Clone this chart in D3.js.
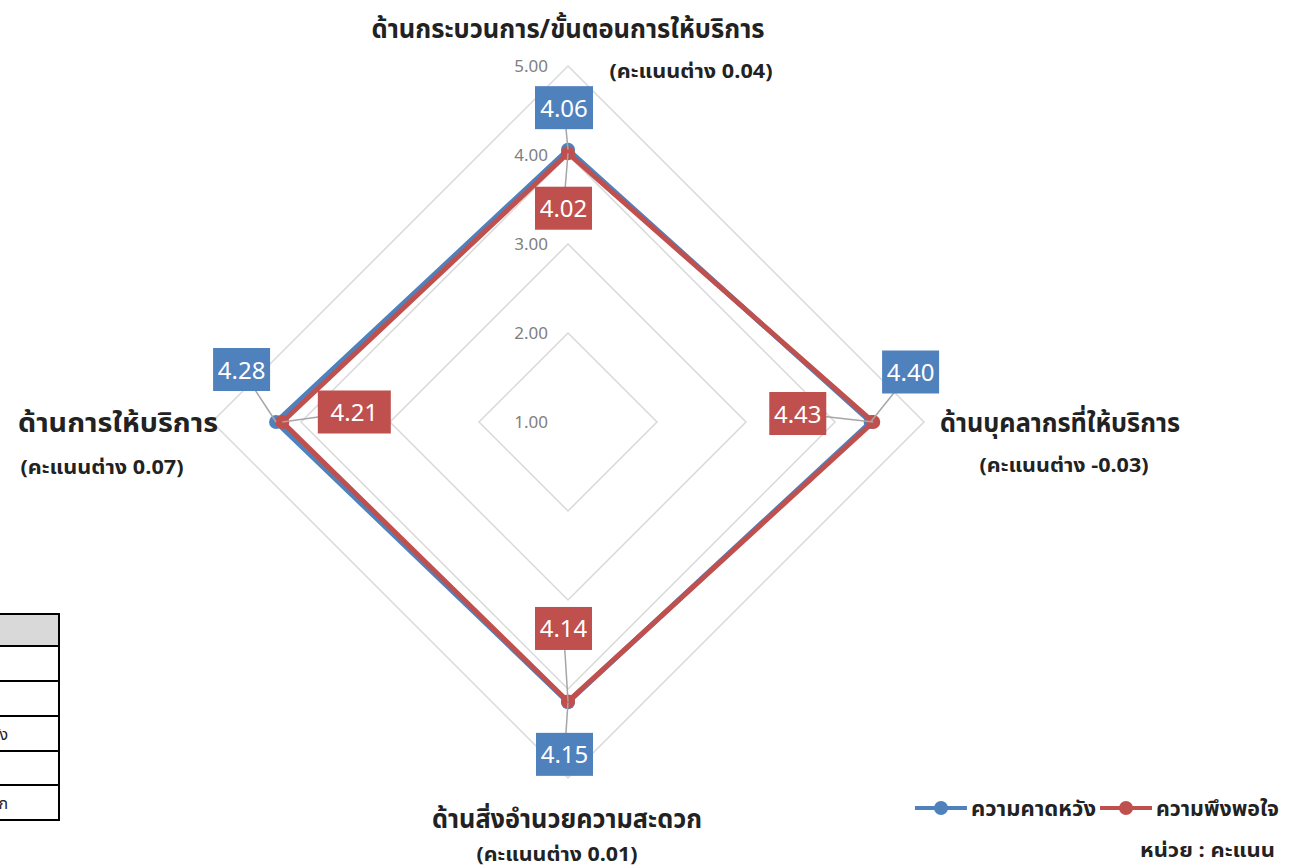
<!DOCTYPE html>
<html>
<head>
<meta charset="utf-8">
<script src="https://cdn.jsdelivr.net/npm/d3@7"></script>
<style>
  body { margin: 0; background: #fff; }
  svg { display: block; font-family: "Noto Sans Thai", Tahoma, "Noto Sans", sans-serif; }
</style>
</head>
<body>
<svg id="chart" width="1293" height="868"></svg>
<script>
// axes go clockwise from the top
const categories = ["ด้านกระบวนการ/ขั้นตอนการให้บริการ", "ด้านบุคลากรที่ให้บริการ", "ด้านสิ่งอำนวยความสะดวก", "ด้านการให้บริการ"];
const diffLabels = ["(คะแนนต่าง 0.04)", "(คะแนนต่าง -0.03)", "(คะแนนต่าง 0.01)", "(คะแนนต่าง 0.07)"];
const expectation = [4.06, 4.40, 4.15, 4.28];
const satisfaction = [4.02, 4.43, 4.14, 4.21];
const seriesNames = ["ความคาดหวัง", "ความพึงพอใจ"];
const ticks = [1, 2, 3, 4, 5];
const tableRows = ["", "", "", "ความคาดหวัง", "", "ด้านสิ่งอำนวยความสะดวก"];

const blue = "#4F81BD", red = "#C0504D";
const svg = d3.select("#chart");
const cx = 568, cy = 422;

const r = d3.scaleLinear().domain([1, 5]).range([0, 356]);
const angle = d3.scalePoint().domain(d3.range(categories.length)).range([0, 2 * Math.PI * 3 / 4]);
function pt(i, v) {
  const a = angle(i);
  return [cx + r(v) * Math.sin(a), cy - r(v) * Math.cos(a)];
}

// grid diamonds
const g = svg.append("g");
ticks.slice(1).forEach(t => {
  g.append("polygon")
    .attr("points", d3.range(4).map(i => pt(i, t).join(",")).join(" "))
    .attr("fill", "none").attr("stroke", "#D9D9D9").attr("stroke-width", 1.5);
});
g.selectAll(".tick").data(ticks).enter().append("text")
  .attr("x", cx - 20).attr("y", d => pt(0, d)[1] + 6)
  .attr("text-anchor", "end").attr("font-size", 17).attr("fill", "#808080")
  .text(d => d.toFixed(2));

// series
const line = d3.line().curve(d3.curveLinearClosed);
[[expectation, blue], [satisfaction, red]].forEach(([vals, col]) => {
  svg.append("path")
    .attr("d", line(vals.map((v, i) => pt(i, v))))
    .attr("fill", "none").attr("stroke", col).attr("stroke-width", 5)
    .attr("stroke-linejoin", "miter");
  svg.selectAll(null).data(vals).enter().append("circle")
    .attr("cx", (v, i) => pt(i, v)[0]).attr("cy", (v, i) => pt(i, v)[1])
    .attr("r", 7).attr("fill", col);
});

// data labels: box centre offset from its point, and box width
const expOff = [[-4, -42, 58], [40, -50, 57], [-3.5, 52, 57], [-34.5, -52.5, 57]];
const satOff = [[-4.5, 55, 57], [-75.5, -8.5, 57], [-4.5, -73, 57], [72, -10, 73]];
function labels(vals, offs, col) {
  vals.forEach((v, i) => {
    const [px, py] = pt(i, v);
    const bx = px + offs[i][0], by = py + offs[i][1], w = offs[i][2];
    svg.append("line").attr("x1", px).attr("y1", py).attr("x2", bx).attr("y2", by)
      .attr("stroke", "#A6A6A6").attr("stroke-width", 1.5);
    svg.append("rect").attr("x", bx - w / 2).attr("y", by - 21.5).attr("width", w).attr("height", 43).attr("fill", col);
    svg.append("text").attr("x", bx).attr("y", by + 9).attr("text-anchor", "middle")
      .attr("font-size", 24).attr("fill", "#fff").text(v.toFixed(2));
  });
}
labels(expectation, expOff, blue);
labels(satisfaction, satOff, red);

// category labels: [x, y, width] for name, then for difference
const catPos = [[568, 38, 393, 691, 78, 163], [1060, 432, 240, 1064, 472, 169], [567, 828, 270, 557, 861, 161], [118, 432, 200, 102, 474, 163]];
categories.forEach((c, i) => {
  const p = catPos[i];
  svg.append("text").attr("x", p[0]).attr("y", p[1]).attr("text-anchor", "middle")
    .attr("font-size", 26).attr("font-weight", "bold").attr("fill", "#222")
    .attr("textLength", p[2]).attr("lengthAdjust", "spacingAndGlyphs").text(c);
  svg.append("text").attr("x", p[3]).attr("y", p[4]).attr("text-anchor", "middle")
    .attr("font-size", 20).attr("font-weight", "bold").attr("fill", "#222")
    .attr("textLength", p[5]).attr("lengthAdjust", "spacingAndGlyphs").text(diffLabels[i]);
});

// legend
const leg = svg.append("g").attr("font-size", 21).attr("font-weight", "bold").attr("fill", "#222");
[[915, blue, 125], [1100, red, 123]].forEach(([x, col, w], i) => {
  leg.append("line").attr("x1", x).attr("x2", x + 52).attr("y1", 808).attr("y2", 808).attr("stroke", col).attr("stroke-width", 4);
  leg.append("circle").attr("cx", x + 26).attr("cy", 808).attr("r", 7).attr("fill", col);
  leg.append("text").attr("x", x + 56).attr("y", 816)
    .attr("textLength", w).attr("lengthAdjust", "spacingAndGlyphs").text(seriesNames[i]);
});
leg.append("text").attr("x", 1140).attr("y", 857).attr("font-size", 20)
  .attr("textLength", 135).attr("lengthAdjust", "spacingAndGlyphs").text("หน่วย : คะแนน");

// clipped table at bottom left
const tb = svg.append("g");
const rowY = [614, 646, 681, 716, 751, 785, 820];
tableRows.forEach((t, i) => {
  tb.append("rect").attr("x", -10).attr("y", rowY[i]).attr("width", 69).attr("height", rowY[i + 1] - rowY[i])
    .attr("fill", i === 0 ? "#D9D9D9" : "#fff").attr("stroke", "#000").attr("stroke-width", 2);
  if (t) tb.append("text").attr("x", 8).attr("y", (rowY[i] + rowY[i + 1]) / 2 + 6).attr("text-anchor", "end")
    .attr("font-size", 16).attr("fill", "#222").text(t);
});
</script>
</body>
</html>
